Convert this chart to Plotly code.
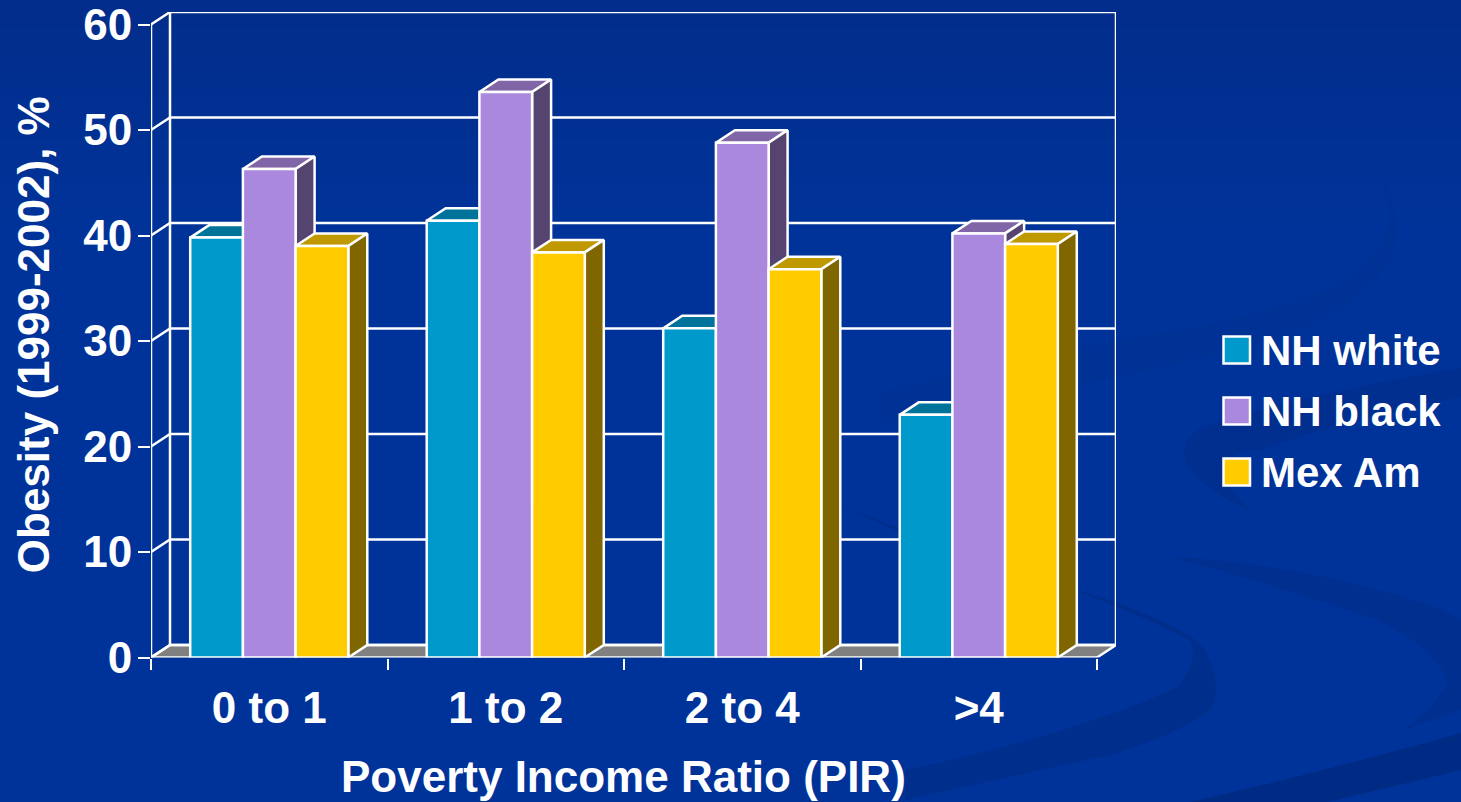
import plotly.graph_objects as go

CATEGORIES = ["0 to 1", "1 to 2", "2 to 4", ">4"]
SERIES = ["NH white", "NH black", "Mex Am"]
NH_WHITE = [39.8, 41.4, 31.2, 23.0]
NH_BLACK = [46.3, 53.6, 48.8, 40.2]
MEX_AM = [39.0, 38.4, 36.8, 39.2]
Y_TICKS = [0, 10, 20, 30, 40, 50, 60]
FRONT = ["#0099CC", "#AA88DD", "#FFCC00"]
TOP = ["#00739A", "#8066A6", "#C09900"]
SIDE = ["#004D66", "#55446F", "#806600"]
Y_TITLE = "Obesity (1999-2002), %"
X_TITLE = "Poverty Income Ratio (PIR)"

W, H = 1461, 802
L, R, T, B = 151, 1116, 12, 657.5
DX = 19 / 236.5      # depth of the 3-D box, in category units
DY = 12.5 / 10.54    # depth of the 3-D box, in value units
BAR = 0.2228
font = dict(family="Liberation Sans", size=44, color="white", weight=700)
legend_font = dict(family="Liberation Sans", size=42, color="white", weight=700)
WHITE = dict(color="white", width=2.5)
values = [NH_WHITE, NH_BLACK, MEX_AM]
x0, x1 = -0.5, len(CATEGORIES) - 0.5

fig = go.Figure()


def poly(xs, ys, fill=None, line=WHITE):
    fig.add_trace(go.Scatter(
        x=xs, y=ys, mode="lines", line=line, cliponaxis=False,
        fill="toself" if fill else None, fillcolor=fill,
        showlegend=False, hoverinfo="skip"))


# floor, walls, grid
poly([x0, x0 + DX, x1 + DX, x1, x0], [0, DY, DY, 0, 0], "#808080", dict(color="rgba(0,0,0,0)", width=0))
poly([x0, x0 + DX, x1 + DX, x1], [0, DY, DY, 0])
for v in Y_TICKS:
    poly([x0, x0 + DX, x1 + DX], [v, v + DY, v + DY])
poly([x0, x0], [0, 60])
poly([x0 + DX, x0 + DX], [DY, 60 + DY])
poly([x1 + DX, x1 + DX], [DY, 60 + DY])
poly([x0, x1], [0, 0])

# tops and sides, drawn left to right so that neighbours overlap correctly
for c in range(len(CATEGORIES)):
    for s in range(len(SERIES)):
        v = values[s][c]
        a = c + (s - 1.5) * BAR
        b = a + BAR
        poly([a, a + DX, b + DX, b, a], [v, v + DY, v + DY, v, v], TOP[s])
        poly([b, b + DX, b + DX, b, b], [v, v + DY, DY, 0, v], SIDE[s])

# front faces, real bars on an overlaid pair of axes
for s, name in enumerate(SERIES):
    fig.add_trace(go.Bar(
        x=list(range(len(CATEGORIES))), y=values[s], name=name,
        xaxis="x2", yaxis="y2", marker=dict(color=FRONT[s], line=WHITE),
        cliponaxis=False, showlegend=False,
        hovertemplate=name + ": %{y}<extra></extra>"))

# decorative background
shapes = []
for i in range(16):
    t = i / 16
    r = round(0 + 2 * (1 - t))
    g = round(45 + 6 * t)
    b_ = round(140 + 13 * t)
    shapes.append(dict(type="rect", xref="paper", yref="paper", x0=0, x1=1,
                       y0=1 - (i + 1) * 14 / H, y1=1 - i * 14 / H,
                       fillcolor=f"rgb({r},{g},{b_})", line_width=0, layer="below"))


def px_path(d):
    out = []
    for tok in d.split():
        if "," in tok:
            px, py = tok.split(",")
            out.append(f"{float(px) / W:.5f},{1 - float(py) / H:.5f}")
        else:
            out.append(tok)
    return " ".join(out)


SWIRLS = [
    ("#003194", "M 880,392 Q 1000,362 1117,340 Q 1220,325 1277,307 Q 1350,285 1380,250 Q 1400,210 1373,163 "
                "Q 1410,215 1390,262 Q 1370,295 1310,327 Q 1220,355 1117,377 Q 1000,400 880,424 Z"),
    ("#002E8C", "M 842,505 Q 950,560 1078,592 Q 1130,610 1190,640 Q 1200,660 1177,687 Q 1143,705 1053,733 "
                "Q 980,755 905,770 L 905,800 Q 985,782 1110,755 Q 1177,735 1210,710 Q 1225,685 1203,647 "
                "Q 1190,630 1110,600 Q 960,555 842,505 Z"),
    ("#002F90", "M 1461,368 Q 1310,393 1203,427 Q 1180,440 1185,460 Q 1195,485 1253,513 "
                "Q 1225,485 1223,470 Q 1230,450 1260,450 Q 1343,420 1461,397 Z"),
    ("#002F90", "M 1170,557 Q 1277,562 1377,590 Q 1430,602 1461,620 L 1461,710 L 1403,730 Q 1437,707 1447,683 "
                "Q 1440,650 1377,620 Q 1277,585 1170,557 Z"),
    ("#002B85", "M 1461,733 Q 1330,770 1190,802 L 1327,802 Q 1400,785 1461,770 Z"),
]
for color, d in SWIRLS:
    shapes.append(dict(type="path", xref="paper", yref="paper", path=px_path(d),
                       fillcolor=color, line_width=0, layer="below"))

# legend
annotations = []
LEG_Y = [350, 411, 472]
for s, name in enumerate(SERIES):
    shapes.append(dict(type="rect", xref="paper", yref="paper",
                       x0=1223.5 / W, x1=1250 / W,
                       y0=1 - (LEG_Y[s] + 13.5) / H, y1=1 - (LEG_Y[s] - 13.5) / H,
                       fillcolor=FRONT[s], line=WHITE))
    annotations.append(dict(text=name, xref="paper", yref="paper", x=1259 / W, y=1 - LEG_Y[s] / H,
                            xanchor="left", yanchor="middle", showarrow=False, font=legend_font))

annotations.append(dict(text=X_TITLE, xref="paper", yref="paper", x=623.5 / W, y=1 - 776 / H,
                        xanchor="center", yanchor="middle", showarrow=False, font=font))

domain_x = [L / W, R / W]
domain_y = [1 - B / H, 1 - T / H]
xr = [x0, x1 + DX]
yr = [0, 60 + DY]

fig.update_layout(
    width=W, height=H, margin=dict(l=0, r=0, t=0, b=0, autoexpand=False),
    paper_bgcolor="#003399", plot_bgcolor="rgba(0,0,0,0)",
    barmode="group", bargap=1 - 3 * BAR, bargroupgap=0,
    showlegend=False, shapes=shapes, annotations=annotations,
    xaxis=dict(domain=domain_x, range=xr, showgrid=False, zeroline=False, showline=False,
               tickmode="array", tickvals=list(range(len(CATEGORIES))), ticktext=CATEGORIES,
               ticks="", ticklabelstandoff=20, tickfont=font, ticklabeloverflow="allow",
               minor=dict(tickmode="array", tickvals=[x0 + i for i in range(len(CATEGORIES) + 1)],
                          ticks="outside", ticklen=11, tickwidth=2, tickcolor="white", showgrid=False)),
    yaxis=dict(domain=domain_y, range=yr, showgrid=False, zeroline=False, showline=False,
               tickmode="array", tickvals=Y_TICKS, ticks="outside", ticklen=12, tickwidth=2,
               tickcolor="white", ticklabelstandoff=-3, tickfont=font, ticklabeloverflow="allow",
               title=dict(text=Y_TITLE, font=font, standoff=19)),
    xaxis2=dict(domain=domain_x, range=xr, overlaying="x", visible=False),
    yaxis2=dict(domain=domain_y, range=yr, overlaying="y", visible=False),
)

fig.write_html("out.html", config=dict(displayModeBar=False),
               post_script="document.body.style.margin='0';document.body.style.overflow='hidden';")
